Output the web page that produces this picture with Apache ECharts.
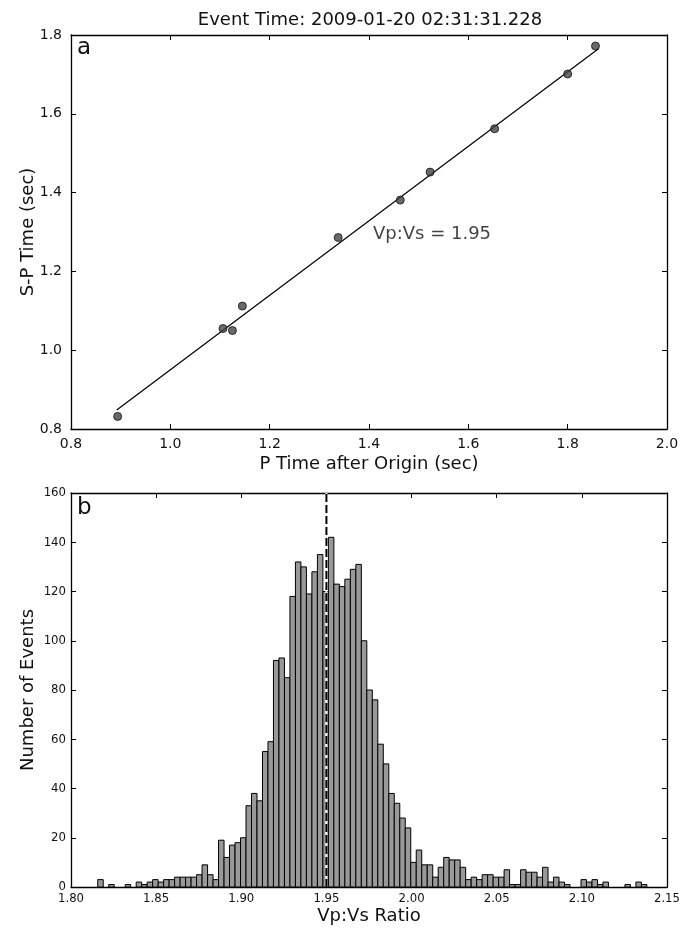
<!DOCTYPE html>
<html>
<head>
<meta charset="utf-8">
<script src="https://cdn.jsdelivr.net/npm/echarts@6/dist/echarts.min.js"></script>
<style>
html,body{margin:0;padding:0;background:#fff;}
#chart{width:683px;height:930px;}
</style>
</head>
<body>
<div id="chart"></div>
<script>
// ---- Panel a: S-P time vs P time ----
const pTimes  = [0.894, 1.106, 1.125, 1.145, 1.338, 1.463, 1.523, 1.653, 1.800, 1.856];
const spTimes = [0.832, 1.055, 1.050, 1.112, 1.286, 1.381, 1.452, 1.562, 1.701, 1.772];
const fitX = [0.892, 1.862];
const fitY = [0.848, 1.765];
const ratioText = 'Vp:Vs = 1.95';
const ratioTextPos = [1.408, 1.293];
const titleText = 'Event Time: 2009-01-20 02:31:31.228';

// ---- Panel b: histogram of Vp:Vs ----
const vpvsBinStart = 1.8157;
const vpvsBinWidth = 0.003225;
const vpvsCounts = [
  3,0,1,0,0,1,0,2,1,2,
  3,2,3,3,4,4,4,4,5,9,
  5,3,19,12,17,18,20,33,38,35,
  55,59,92,93,85,118,132,130,119,128,
  135,120,142,123,122,125,129,131,100,80,
  76,58,50,38,34,28,24,10,15,9,
  9,4,8,12,11,11,8,3,4,3,
  5,5,4,4,7,1,1,7,6,6,
  4,8,2,4,2,1,0,0,3,2,
  3,1,2,0,0,0,1,0,2,1
];
const vpvsBest = 1.95;

const topXTicks = [0.8, 2.0, 0.2];
const topYTicks = [0.8, 1.8, 0.2];
const botXTicks = [1.80, 2.15, 0.05];
const botYTicks = [0, 160, 20];

const FONT = "'DejaVu Sans', 'Liberation Sans', sans-serif";
const FONT_C = "'DejaVu Sans Condensed', 'DejaVu Sans', sans-serif";
const lineCol = '#000';

function frameAxis(base) {
  return Object.assign({
    type: 'value',
    axisLine: {show: true, onZero: false, lineStyle: {color: lineCol, width: 1.3}},
    axisTick: {show: true, inside: true, length: 5, lineStyle: {color: lineCol, width: 1}},
    splitLine: {show: false},
    axisLabel: {show: false}
  }, base);
}

const histData = [];
vpvsCounts.forEach((c, i) => {
  if (c > 0) histData.push([vpvsBinStart + i * vpvsBinWidth, vpvsBinStart + (i + 1) * vpvsBinWidth, c]);
});

const chart = echarts.init(document.getElementById('chart'), null, {renderer: 'canvas'});
chart.setOption({
  animation: false,
  backgroundColor: '#fff',
  grid: [
    {left: 71, top: 35, width: 596, height: 394},
    {left: 71, top: 493, width: 596, height: 394}
  ],
  xAxis: [
    frameAxis({gridIndex: 0, position: 'bottom', min: topXTicks[0], max: topXTicks[1], interval: topXTicks[2],
      axisLabel: {show: true, margin: 8, color: '#111', fontFamily: FONT, fontSize: 14,
        formatter: v => v.toFixed(1)},
      name: 'P Time after Origin (sec)', nameLocation: 'middle', nameGap: 26,
      nameTextStyle: {color: '#111', fontFamily: FONT, fontSize: 18}}),
    frameAxis({gridIndex: 0, position: 'top', min: topXTicks[0], max: topXTicks[1], interval: topXTicks[2]}),
    frameAxis({gridIndex: 1, position: 'bottom', min: botXTicks[0], max: botXTicks[1], interval: botXTicks[2],
      axisLabel: {show: true, margin: 5, color: '#111', fontFamily: FONT_C, fontSize: 13,
        formatter: v => v.toFixed(2)},
      name: 'Vp:Vs Ratio', nameLocation: 'middle', nameGap: 20,
      nameTextStyle: {color: '#111', fontFamily: FONT, fontSize: 18}}),
    frameAxis({gridIndex: 1, position: 'top', min: botXTicks[0], max: botXTicks[1], interval: botXTicks[2]})
  ],
  yAxis: [
    frameAxis({gridIndex: 0, position: 'left', min: topYTicks[0], max: topYTicks[1], interval: topYTicks[2],
      axisLabel: {show: true, margin: 9, color: '#111', fontFamily: FONT, fontSize: 14,
        formatter: v => v.toFixed(1)},
      name: 'S-P Time (sec)', nameLocation: 'middle', nameGap: 34, nameMoveOverlap: false,
      nameTextStyle: {color: '#111', fontFamily: FONT, fontSize: 18}}),
    frameAxis({gridIndex: 0, position: 'right', min: topYTicks[0], max: topYTicks[1], interval: topYTicks[2]}),
    frameAxis({gridIndex: 1, position: 'left', min: botYTicks[0], max: botYTicks[1], interval: botYTicks[2],
      axisLabel: {show: true, margin: 5, color: '#111', fontFamily: FONT_C, fontSize: 13},
      name: 'Number of Events', nameLocation: 'middle', nameGap: 34, nameMoveOverlap: false,
      nameTextStyle: {color: '#111', fontFamily: FONT, fontSize: 18}}),
    frameAxis({gridIndex: 1, position: 'right', min: botYTicks[0], max: botYTicks[1], interval: botYTicks[2]})
  ],
  graphic: [
    {type: 'text', x: 370, y: 20, style: {text: titleText, fill: '#111', font: "18px " + FONT,
      textAlign: 'center', textVerticalAlign: 'middle', align: 'center', verticalAlign: 'middle'}, z: 100},
    {type: 'text', left: 77, top: 37, style: {text: 'a', fill: '#111', font: "23px " + FONT}, z: 100},
    {type: 'text', left: 77, top: 497, style: {text: 'b', fill: '#111', font: "23px " + FONT}, z: 100}
  ],
  series: [
    {
      type: 'line', xAxisIndex: 0, yAxisIndex: 0, symbol: 'none', silent: true,
      data: fitX.map((x, i) => [x, fitY[i]]),
      lineStyle: {color: '#000', width: 1.2}, z: 2
    },
    {
      type: 'scatter', xAxisIndex: 0, yAxisIndex: 0, symbolSize: 8,
      data: pTimes.map((x, i) => [x, spTimes[i]]),
      itemStyle: {color: '#444', borderColor: '#111', borderWidth: 1}, z: 3
    },
    {
      type: 'scatter', xAxisIndex: 0, yAxisIndex: 0, symbolSize: 0, silent: true,
      data: [ratioTextPos],
      label: {show: true, position: 'right', distance: 0, formatter: ratioText,
        color: '#111', fontFamily: FONT, fontSize: 18}
    },
    {
      type: 'custom', xAxisIndex: 2, yAxisIndex: 2,
      encode: {x: [0, 1], y: 2},
      data: histData,
      renderItem: function (params, api) {
        const p0 = api.coord([api.value(0), api.value(2)]);
        const p1 = api.coord([api.value(1), 0]);
        return {
          type: 'rect',
          shape: {x: p0[0], y: p0[1], width: p1[0] - p0[0], height: p1[1] - p0[1]},
          style: {fill: '#999999', stroke: '#000', lineWidth: 1}
        };
      },
      z: 2
    },
    {
      type: 'line', xAxisIndex: 2, yAxisIndex: 2, symbol: 'none', silent: true,
      data: [[vpvsBest, botYTicks[0]], [vpvsBest, botYTicks[1]]],
      lineStyle: {color: '#fff', width: 2}, z: 4
    },
    {
      type: 'line', xAxisIndex: 2, yAxisIndex: 2, symbol: 'none', silent: true,
      data: [[vpvsBest, botYTicks[0]], [vpvsBest, botYTicks[1]]],
      lineStyle: {color: '#000', width: 2, type: [8, 3]}, z: 5
    }
  ]
});
</script>
</body>
</html>
